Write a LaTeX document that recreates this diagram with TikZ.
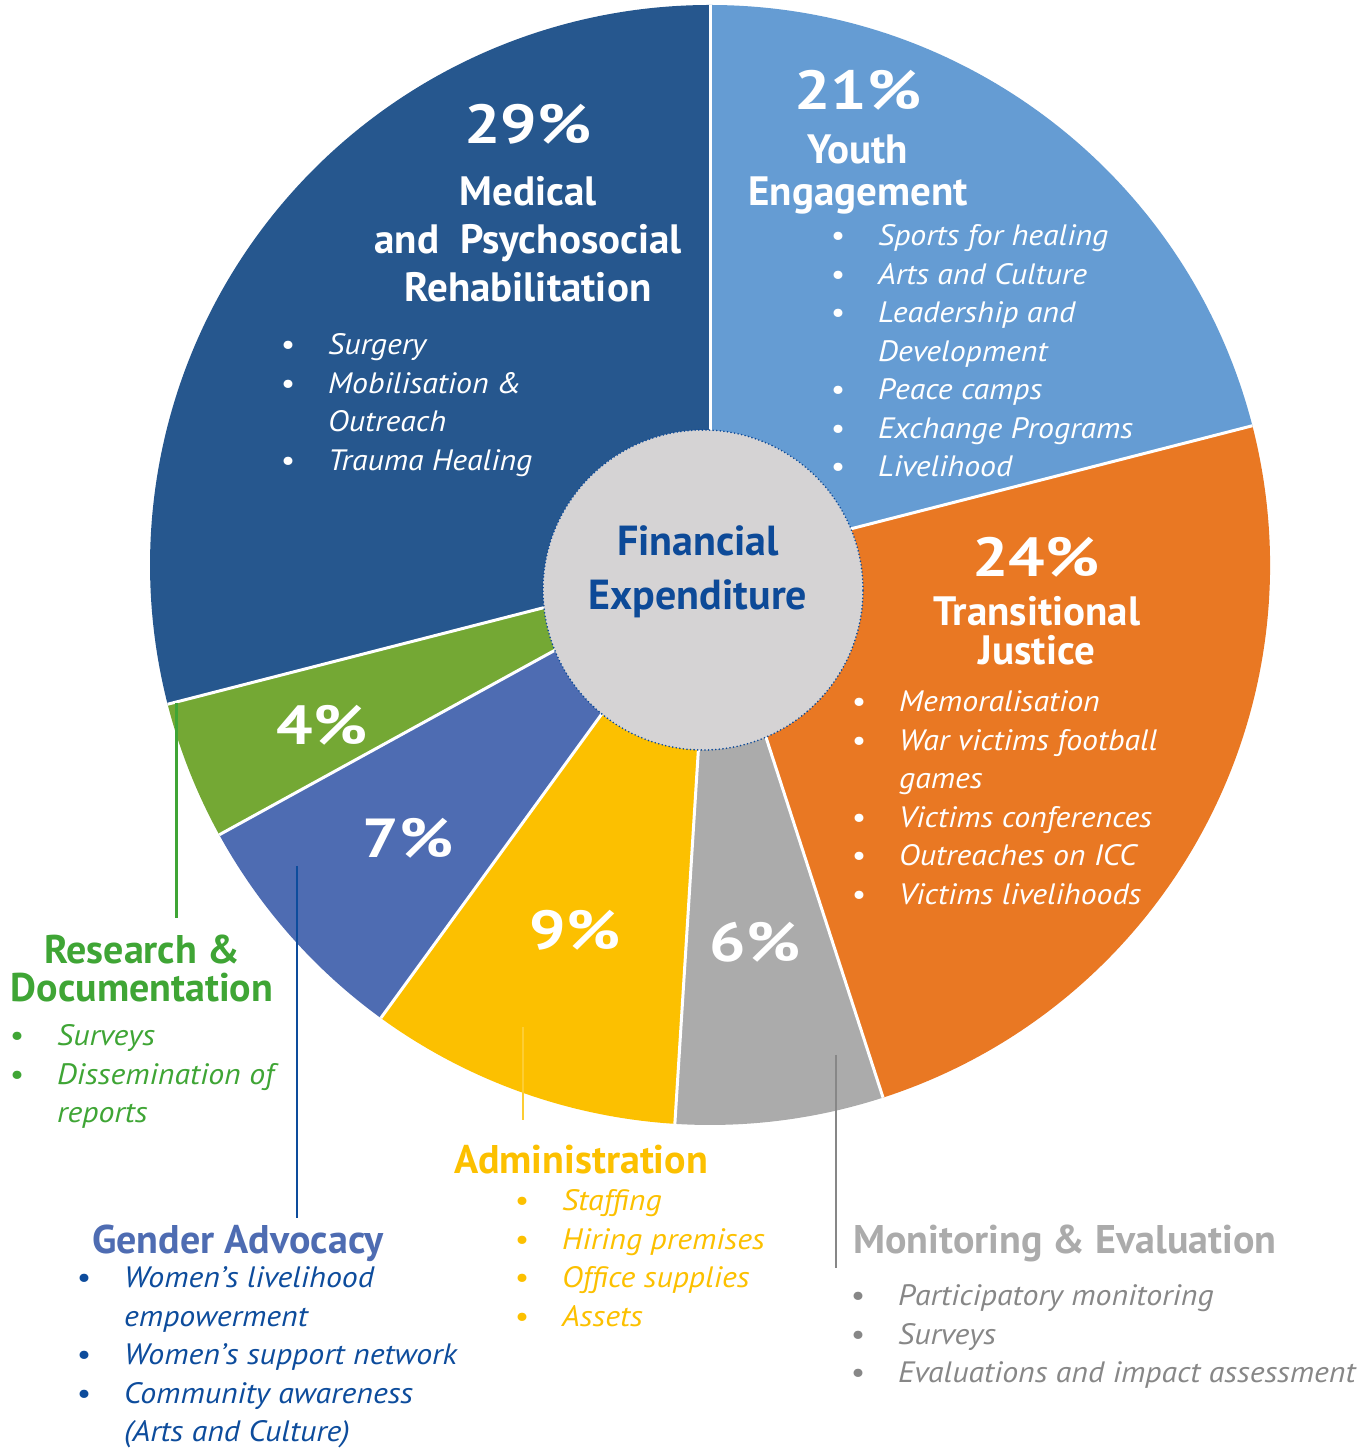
\documentclass[tikz,border=0pt]{standalone}
\usepackage{fontspec}
\setmainfont{PT Sans}[ItalicFeatures={FakeStretch=1.08}]
\newfontfamily\pctfont{PT Sans}[FakeStretch=1.17]
\usetikzlibrary{positioning}

\definecolor{medblue}{HTML}{26578E}
\definecolor{youthblue}{HTML}{659CD3}
\definecolor{tjorange}{HTML}{E97823}
\definecolor{megray}{HTML}{ABABAB}
\definecolor{metext}{HTML}{878787}
\definecolor{adminyellow}{HTML}{FCC000}
\definecolor{genderblue}{HTML}{4E6CB2}
\definecolor{gendertext}{HTML}{0D4C9C}
\definecolor{resgreen}{HTML}{74A834}
\definecolor{restext}{HTML}{3FA535}
\definecolor{hubgray}{HTML}{D5D3D4}
\definecolor{hubblue}{HTML}{0D4A98}

\begin{document}
\begin{tikzpicture}[x=1pt, y=1pt,
	pct/.style={text=white, inner sep=0pt, font=\pctfont\bfseries\fontsize{55}{55}\selectfont},
	head/.style={align=center, inner sep=0pt, font=\bfseries\fontsize{41}{48}\selectfont},
	sidehead/.style={align=center, inner sep=0pt, font=\bfseries\fontsize{40}{38}\selectfont},
	blist/.style={anchor=base west, inner sep=0pt, font=\itshape\fontsize{29.5}{38.5}\selectfont},
	lead/.style={line width=2.5pt}]

\def\ox{710}
\def\oy{884}
\def\rad{560}

\path [use as bounding box] (0,0) rectangle (1370,1449);

% SLICES
\fill [youthblue] (\ox,\oy) -- +(14.4:\rad) arc (14.4:90:\rad) -- cycle;
\fill [tjorange] (\ox,\oy) -- +(-72:\rad) arc (-72:14.4:\rad) -- cycle;
\fill [megray] (\ox,\oy) -- +(-93.6:\rad) arc (-93.6:-72:\rad) -- cycle;
\fill [adminyellow] (\ox,\oy) -- +(-126:\rad) arc (-126:-93.6:\rad) -- cycle;
\fill [genderblue] (\ox,\oy) -- +(-151.2:\rad) arc (-151.2:-126:\rad) -- cycle;
\fill [resgreen] (\ox,\oy) -- +(-165.6:\rad) arc (-165.6:-151.2:\rad) -- cycle;
\fill [medblue] (\ox,\oy) -- +(90:\rad) arc (90:194.4:\rad) -- cycle;

% SEPARATORS
\draw [white, line width=3pt] (\ox,\oy) -- +(90:\rad);
\draw [white, line width=3pt] (\ox,\oy) -- +(14.4:\rad);
\draw [white, line width=3pt] (\ox,\oy) -- +(-72:\rad);
\draw [white, line width=3pt] (\ox,\oy) -- +(-93.6:\rad);
\draw [white, line width=3pt] (\ox,\oy) -- +(-126:\rad);
\draw [white, line width=3pt] (\ox,\oy) -- +(-151.2:\rad);
\draw [white, line width=3pt] (\ox,\oy) -- +(-165.6:\rad);

% HUB
\node (hub) [circle, minimum size=320pt, inner sep=0pt, fill=hubgray, draw=hubblue,
	line width=1.8pt, dash pattern=on 0pt off 3.6pt, line cap=round] at (703,859) {};
\node (hubtext) [align=center, inner sep=0pt, text=hubblue,
	font=\bfseries\fontsize{42}{54}\selectfont] at (698,877) {Financial\\Expenditure};

% PERCENTAGES
\node (p29) [pct] at (528,1325) {29\%};
\node (p21) [pct] at (858,1359) {21\%};
\node (p24) [pct] at (1036,892) {24\%};
\node (p6) [pct] at (755,507) {6\%};
\node (p9) [pct] at (575,519) {9\%};
\node (p7) [pct] at (408,611) {7\%};
\node (p4) [pct] at (322,724) {4\%};

% SLICE TITLES
\node (med) [head, text=white] at (528,1210) {Medical\\and\ \ Psychosocial\\Rehabilitation};
\node (youth) [head, text=white, font=\bfseries\fontsize{41}{42}\selectfont] at (858,1274) {Youth\\Engagement};
\node (tj) [head, text=white, font=\bfseries\fontsize{41}{39}\selectfont] at (1037,818) {Transitional\\Justice};

% SLICE LISTS
\node (medlist) [blist, text=white] at (280,1094) {\begin{tabular}[t]{@{}p{48pt}@{}l@{}}
\textbullet & Surgery\\
\textbullet & Mobilisation \&\\
 & Outreach\\
\textbullet & Trauma Healing
\end{tabular}};
\node (youthlist) [blist, text=white] at (830,1203) {\begin{tabular}[t]{@{}p{48pt}@{}l@{}}
\textbullet & Sports for healing\\
\textbullet & Arts and Culture\\
\textbullet & Leadership and\\
 & Development\\
\textbullet & Peace camps\\
\textbullet & Exchange Programs\\
\textbullet & Livelihood
\end{tabular}};
\node (tjlist) [blist, text=white] at (851,737) {\begin{tabular}[t]{@{}p{48pt}@{}l@{}}
\textbullet & Memoralisation\\
\textbullet & War victims football\\
 & games\\
\textbullet & Victims conferences\\
\textbullet & Outreaches on ICC\\
\textbullet & Victims livelihoods
\end{tabular}};

% SIDE TITLES
\node (res) [sidehead, text=restext] at (142,480) {Research \&\\Documentation};
\node (gender) [sidehead, text=genderblue] at (238,206) {Gender Advocacy};
\node (admin) [sidehead, text=adminyellow] at (581,289) {Administration};
\node (me) [sidehead, text=megray] at (1065,206) {Monitoring \& Evaluation};

% SIDE LISTS
\node (reslist) [blist, text=restext] at (9,403) {\begin{tabular}[t]{@{}p{48pt}@{}l@{}}
\textbullet & Surveys\\
\textbullet & Dissemination of\\
 & reports
\end{tabular}};
\node (genderlist) [blist, text=gendertext] at (76,161) {\begin{tabular}[t]{@{}p{48pt}@{}l@{}}
\textbullet & Women’s livelihood\\
 & empowerment\\
\textbullet & Women’s support network\\
\textbullet & Community awareness\\
 & (Arts and Culture)
\end{tabular}};
\node (adminlist) [blist, text=adminyellow] at (514,238) {\begin{tabular}[t]{@{}p{48pt}@{}l@{}}
\textbullet & Staffing\\
\textbullet & Hiring premises\\
\textbullet & Office supplies\\
\textbullet & Assets
\end{tabular}};
\node (melist) [blist, text=metext] at (850,143) {\begin{tabular}[t]{@{}p{48pt}@{}l@{}}
\textbullet & Participatory monitoring\\
\textbullet & Surveys\\
\textbullet & Evaluations and impact assessment
\end{tabular}};

% LEADERS
\coordinate (restop) at (176,746);
\coordinate (resend) at (176,531);
\coordinate (gendertop) at (297,583);
\coordinate (genderend) at (297,231);
\coordinate (admintop) at (523,422);
\coordinate (adminend) at (523,329);
\coordinate (metop) at (836,394);
\coordinate (meend) at (836,181);
\draw [lead, restext, line width=3pt] (restop) -- (resend);
\draw [lead, gendertext] (gendertop) -- (genderend);
\draw [lead, adminyellow!80!white, line width=1.5pt] (admintop) -- (adminend);
\draw [lead, metext] (metop) -- (meend);

\end{tikzpicture}
\end{document}
